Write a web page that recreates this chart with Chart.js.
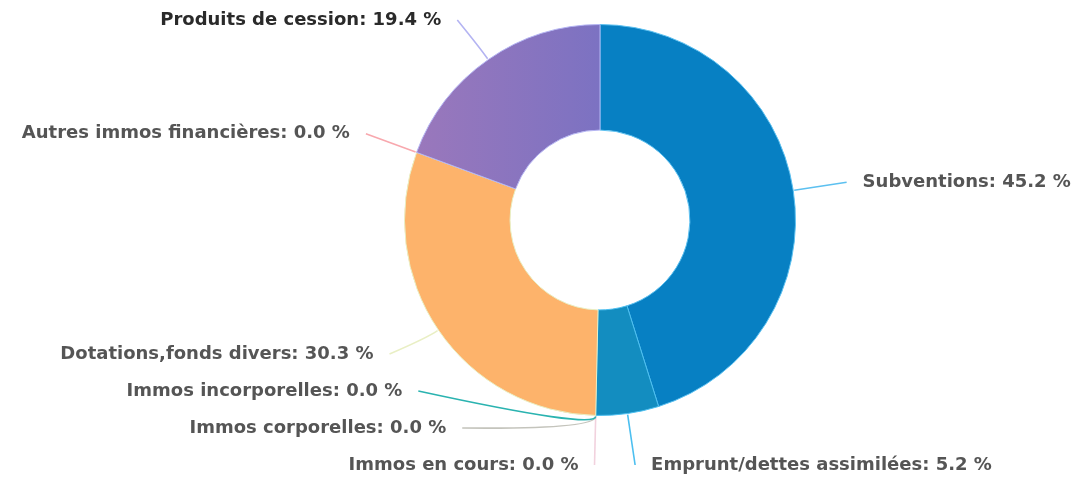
<!DOCTYPE html>
<html lang="fr">
<head>
    <meta charset="UTF-8">
    <title>Répartition des ressources</title>
    <script src="https://cdn.jsdelivr.net/npm/chart.js"></script>
    <style>
        html, body { margin: 0; padding: 0; background: #fff; }
        #wrap { width: 1078px; height: 479px; position: relative; }
    </style>
</head>
<body>
    <div id="wrap"><canvas id="ressourcesChart"></canvas></div>
    <script>
        // Données du graphique
        const categories = ['Subventions', 'Emprunt/dettes assimilées', 'Immos en cours', 'Immos corporelles',
            'Immos incorporelles', 'Dotations,fonds divers', 'Autres immos financières', 'Produits de cession'];
        const pourcentages = [45.2, 5.2, 0.0, 0.0, 0.0, 30.3, 0.0, 19.4];

        const couleurs = ['#0780c3', '#138dc0', '#f4c8d8', '#c8c8c0', '#20b0b0', '#fdb36b', '#f8a0a8', '#8874be'];
        const couleursTraits = ['#5cc0f0', '#4cbff0', '#f2d2de', '#c4c4bc', '#2ab3b0', '#e9efc4', '#f8a8ae', '#b4b4f2'];

        // Étiquettes extérieures avec traits de rappel (style "Highcharts")
        const etiquettesPlugin = {
            id: 'etiquettes',
            afterDatasetsDraw(chart) {
                const ctx = chart.ctx;
                const meta = chart.getDatasetMeta(0);
                const distLabel = 54, ecart = 37, haut = 20, bas = 465, gap = 16;
                const items = meta.data.map((arc, i) => {
                    const p = arc.getProps(['x', 'y', 'startAngle', 'endAngle', 'outerRadius'], true);
                    const mid = (p.startAngle + p.endAngle) / 2;
                    const R = p.outerRadius + distLabel;
                    return {
                        i, p, mid, R,
                        gauche: Math.cos(mid) < 0,
                        nx: p.x + R * Math.cos(mid),
                        ny: p.y + R * Math.sin(mid)
                    };
                });
                [true, false].forEach(cote => {
                    const grp = items.filter(it => it.gauche === cote);
                    grp.sort((a, b) => (a.ny - b.ny) || (cote ? b.i - a.i : a.i - b.i));
                    grp.forEach(it => { it.y = Math.min(Math.max(it.ny, haut), bas); });
                    for (let k = grp.length - 1; k > 0; k--) {
                        grp[k - 1].y = Math.min(grp[k - 1].y, grp[k].y - ecart);
                    }
                    for (let k = 0; k < grp.length - 1; k++) {
                        if (grp[k].y < haut) grp[k].y = haut;
                        grp[k + 1].y = Math.max(grp[k + 1].y, grp[k].y + ecart);
                    }
                    grp.forEach(it => {
                        const auBord = it.y <= haut + 1 || it.y >= bas - 1;
                        if (auBord) {
                            it.x = it.nx;
                        } else {
                            const dy = Math.max(-1, Math.min(1, (it.y - it.p.y) / it.R));
                            it.x = it.p.x + (cote ? -1 : 1) * Math.cos(Math.asin(dy)) * it.R;
                        }
                    });
                });

                ctx.save();
                items.forEach(it => {
                    const { p, mid } = it;
                    const ax = p.x + (p.outerRadius + 1) * Math.cos(mid);
                    const ay = p.y + (p.outerRadius + 1) * Math.sin(mid);
                    const cx = p.x + (p.outerRadius + 14) * Math.cos(mid);
                    const cy = p.y + (p.outerRadius + 14) * Math.sin(mid);
                    ctx.beginPath();
                    ctx.moveTo(it.x, it.y);
                    ctx.quadraticCurveTo(cx, cy, ax, ay);
                    ctx.strokeStyle = couleursTraits[it.i];
                    ctx.lineWidth = 1.6;
                    ctx.stroke();

                    ctx.font = 'bold 18px "DejaVu Sans"';
                    ctx.fillStyle = it.i === 7 ? '#2a2a2a' : '#555555';
                    ctx.textBaseline = 'middle';
                    ctx.textAlign = it.gauche ? 'right' : 'left';
                    const txt = categories[it.i] + ': ' + pourcentages[it.i].toFixed(1) + ' %';
                    ctx.fillText(txt, it.x + (it.gauche ? -gap : gap), it.y);
                });
                ctx.restore();
            }
        };

        const ctxGraph = document.getElementById('ressourcesChart').getContext('2d');
        const ressourcesChart = new Chart(ctxGraph, {
            type: 'doughnut',
            data: {
                labels: categories,
                datasets: [{
                    data: pourcentages,
                    backgroundColor: (c) => {
                        if (c.dataIndex !== 7 || !c.chart.chartArea) return couleurs[c.dataIndex];
                        const a = c.chart.chartArea;
                        const g = c.chart.ctx.createLinearGradient(a.left, 0, (a.left + a.right) / 2, 0);
                        g.addColorStop(0, '#9c78bb');
                        g.addColorStop(1, '#7c72c2');
                        return g;
                    },
                    borderColor: couleursTraits,
                    borderWidth: 1
                }]
            },
            options: {
                responsive: true,
                maintainAspectRatio: false,
                animation: false,
                cutout: '46%',
                layout: { padding: { left: 404, right: 282, top: 24, bottom: 63 } },
                plugins: {
                    legend: { display: false },
                    tooltip: { enabled: false }
                }
            },
            plugins: [etiquettesPlugin]
        });
    </script>
</body>
</html>
